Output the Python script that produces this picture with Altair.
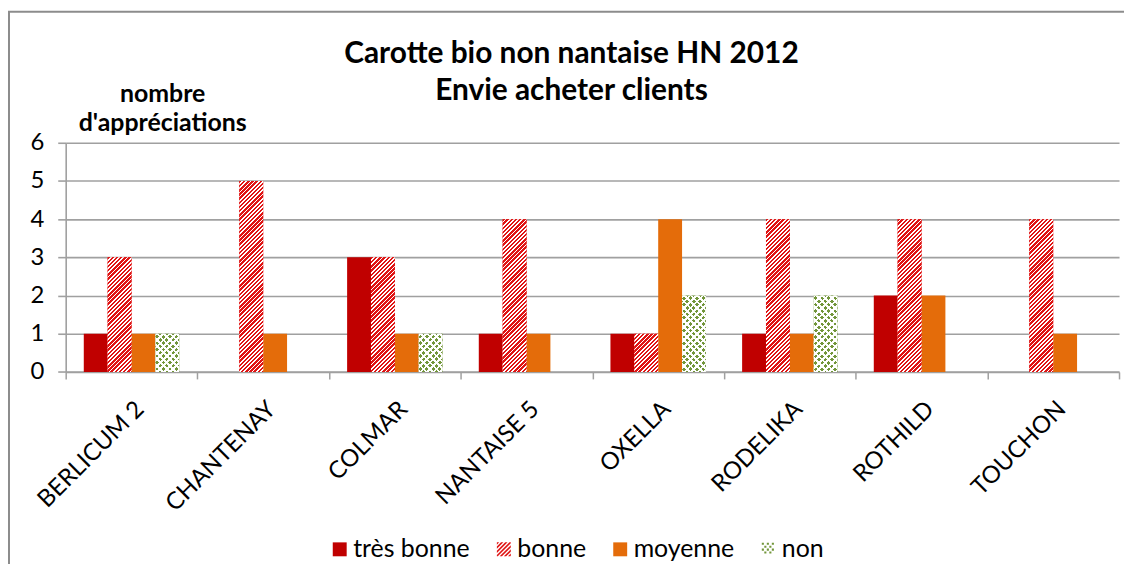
import math
import pandas as pd
import altair as alt

# ---------------- data ----------------
categories = ["BERLICUM 2", "CHANTENAY", "COLMAR", "NANTAISE 5",
              "OXELLA", "RODELIKA", "ROTHILD", "TOUCHON"]
series = ["très bonne", "bonne", "moyenne", "non"]
tres_bonne = [1, 0, 3, 1, 1, 1, 2, 0]
bonne = [3, 5, 3, 4, 1, 4, 4, 4]
moyenne = [1, 1, 1, 1, 4, 1, 2, 1]
non = [1, 0, 1, 0, 2, 2, 0, 0]
y_ticks = [0, 1, 2, 3, 4, 5, 6]
title_lines = ["Carotte bio non nantaise HN 2012", "Envie acheter clients"]
y_title = ["nombre", "d'appréciations"]

rows = []
for i, c in enumerate(categories):
    for s, arr in zip(series, [tres_bonne, bonne, moyenne, non]):
        rows.append({"cat": c, "series": s, "value": arr[i]})
df = pd.DataFrame(rows)
legend_df = pd.DataFrame({"series": series})

# ---------------- style ----------------
FONT = "Lato"
PLOT_W = 1059
PLOT_H = 230.4
Y_MAX = 6
STEP = PLOT_W / len(categories)
BAR_W = 24
PAD_OUT = (STEP / BAR_W - 4) / 2
GRAY = "#A0A0A0"
RED_DARK = "#C00000"
RED = "#E01414"
ORANGE = "#E46C0A"
GREEN = "#72963A"
colors = [RED_DARK, RED, ORANGE, GREEN]


def stripe_grad(w, h, period, frac, c_on, c_off, rising=True):
    """Linear gradient drawing 45deg stripes on a w x h bar (bbox units)."""
    k = (w + h) / (w * w + h * h)
    if rising:
        x1, y1, x2, y2 = 0, 0, k * w, k * h
    else:
        x1, y1, x2, y2 = 0, 1, k * w, 1 - k * h
    L = w + h
    stops = []
    n = int(math.ceil(L / period))
    for i in range(n):
        a = min(i * period / L, 1)
        b = min((i + frac) * period / L, 1)
        c = min((i + 1) * period / L, 1)
        stops += [(a, c_on), (b, c_on), (b, c_off), (c, c_off)]
    return alt.LinearGradient(
        gradient="linear", x1=x1, y1=y1, x2=x2, y2=y2,
        stops=[alt.GradientStop(offset=round(o, 6), color=col) for o, col in stops])


def clip(poly, a, b, c):
    out = []
    n = len(poly)
    for i in range(n):
        p, q = poly[i], poly[(i + 1) % n]
        fp = a * p[0] + b * p[1] - c
        fq = a * q[0] + b * q[1] - c
        if fp <= 0:
            out.append(p)
        if (fp < 0 < fq) or (fq < 0 < fp):
            t = fp / (fp - fq)
            out.append((p[0] + t * (q[0] - p[0]), p[1] + t * (q[1] - p[1])))
    return out


def stripes_path(period=0.6, frac=0.55):
    sq = [(-1, -1), (1, -1), (1, 1), (-1, 1)]
    parts = []
    c1 = -2.0
    while c1 < 2:
        c2 = c1 + frac * period
        poly = clip(clip(sq, 1, 1, c2), -1, -1, -c1)
        if len(poly) >= 3:
            parts.append("M" + "L".join(f"{x:.3f},{y:.3f}" for x, y in poly) + "Z")
        c1 += period
    return "".join(parts)


def dots_path(size=0.3, dx=0.72, dy=0.42):
    parts = []
    r = 0
    y = -0.95
    while y + size <= 1.0:
        x = -0.95 + (r % 2) * dx / 2
        while x + size <= 1.0:
            parts.append(f"M{x:.3f},{y:.3f}h{size}v{size}h{-size}Z")
            x += dx
        y += dy
        r += 1
    return "".join(parts)


shapes = ["square", stripes_path(), "square", dots_path()]

x_enc = alt.X("cat:N", sort=categories, title=None,
              scale=alt.Scale(domain=categories, paddingInner=0, paddingOuter=0),
              axis=alt.Axis(labelAngle=-45, labelAlign="right", labelBaseline="top",
                            labelFont=FONT, labelFontSize=24, labelColor="black",
                            labelPadding=18, labelOverlap=False, labelLimit=300,
                            tickBand="extent", tickSize=7, tickColor=GRAY, tickWidth=1.5,
                            domainColor=GRAY, domainWidth=1.5, grid=False))
xo_enc = alt.XOffset("series:N", sort=series,
                     scale=alt.Scale(domain=series, paddingInner=0, paddingOuter=PAD_OUT))
y_enc = alt.Y("value:Q", title=y_title,
              scale=alt.Scale(domain=[0, Y_MAX], nice=False, zero=True),
              axis=alt.Axis(values=y_ticks, format="d", grid=True, gridColor=GRAY,
                            gridWidth=1.6, domainColor=GRAY, domainWidth=1.6,
                            tickColor=GRAY, tickWidth=1.6, tickSize=8,
                            labelFont=FONT, labelFontSize=24, labelColor="black",
                            labelPadding=14,
                            titleAngle=0, titleAlign="center", titleBaseline="alphabetic",
                            titleX=97, titleY=-41, titleFont=FONT, titleFontSize=25,
                            titleFontWeight="bold", titleColor="black", titleLineHeight=29))

legend = alt.Legend(
    orient="none", legendX=263, legendY=396, direction="horizontal", columns=4,
    title=None, symbolSize=196, symbolStrokeWidth=0, symbolOpacity=1,
    labelFont=FONT, labelFontSize=25, labelColor="black", labelOffset=1,
    columnPadding=21)

color_scale = alt.Scale(domain=series, range=colors)

base = alt.Chart(df).mark_bar().encode(
    x=x_enc, xOffset=xo_enc, y=y_enc,
    color=alt.Color("series:N", sort=series, scale=color_scale, legend=legend))

layers = [base]
px_per_unit = PLOT_H / Y_MAX
# hatched "bonne" bars
for v in sorted(set(bonne)):
    if v <= 0:
        continue
    sub = df[(df.series == "bonne") & (df.value == v)]
    g = stripe_grad(BAR_W, v * px_per_unit, 4.2, 0.58, RED, "#FFFFFF", True)
    layers.append(alt.Chart(sub).mark_bar(fill=g).encode(x=x_enc, xOffset=xo_enc, y=y_enc))
# dotted "non" bars: two white stripe families leave green dots
for v in sorted(set(non)):
    if v <= 0:
        continue
    sub = df[(df.series == "non") & (df.value == v)]
    for rising in (True, False):
        g = stripe_grad(BAR_W, v * px_per_unit, 6.5, 0.42, "#FFFFFF",
                        "rgba(255,255,255,0)", rising)
        layers.append(alt.Chart(sub).mark_bar(fill=g).encode(x=x_enc, xOffset=xo_enc, y=y_enc))

# legend carrier: points placed outside the drawing whose shapes give patterned symbols
legend_layer = alt.Chart(legend_df).mark_point(filled=True, size=196, opacity=1).encode(
    x=alt.value(-3000), y=alt.value(100),
    color=alt.Color("series:N", sort=series, scale=color_scale, legend=legend),
    shape=alt.Shape("series:N", sort=series,
                    scale=alt.Scale(domain=series, range=shapes), legend=legend))
layers.append(legend_layer)

# outer frame of the chart area
one = alt.Data(values=[{"k": 1}])
frame_left = alt.Chart(one).mark_rule(color="#8C8C8C", strokeWidth=2).encode(
    x=alt.value(-57), y=alt.value(-132.5), y2=alt.value(430))
frame_top = alt.Chart(one).mark_rule(color="#8C8C8C", strokeWidth=2).encode(
    x=alt.value(-58), x2=alt.value(1080), y=alt.value(-131.7))
layers += [frame_left, frame_top]

chart = alt.layer(*layers).properties(
    width=PLOT_W, height=PLOT_H,
    title=alt.TitleParams(text=title_lines, font=FONT, fontSize=30, fontWeight="bold",
                          color="black", anchor="middle", frame="group", dx=-21,
                          lineHeight=38, offset=0, dy=97),
    autosize=alt.AutoSizeParams(type="none"),
    padding={"left": 58, "top": 134, "right": 5, "bottom": 192},
).configure_view(stroke=None)

chart.save("out.html", embed_options={"renderer": "svg", "actions": False})
